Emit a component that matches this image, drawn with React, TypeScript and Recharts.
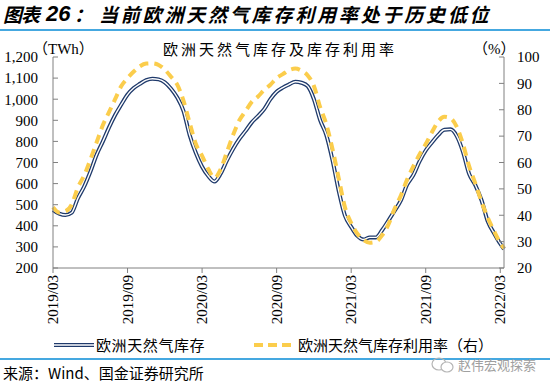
import React from 'react';
import { LineChart, Line, XAxis, YAxis } from 'recharts';

// month offsets from 2019/03
const monthIdx = [
  0, 0.5, 1, 1.5, 2, 2.5, 3, 3.5, 4, 4.5, 5, 5.5, 6, 6.5, 7, 7.5, 8, 8.5, 9, 9.5,
  10, 10.5, 11, 11.5, 12, 12.5, 13, 13.5, 14, 14.5, 15, 15.5, 16, 16.5, 17, 17.5,
  18, 18.5, 19, 19.5, 20, 20.5, 21, 21.5, 22, 22.5, 23, 23.5, 24, 24.5, 25, 25.5,
  26, 26.5, 27, 27.5, 28, 28.5, 29, 29.5, 30, 30.5, 31, 31.5, 32, 32.5, 33, 33.5,
  34, 34.5, 35, 35.5, 36, 36.3,
];

// 欧洲天然气库存 (TWh)
const storageTWh = [
  475, 458, 451, 462, 530, 585, 655, 735, 798, 865, 925, 975, 1022, 1053, 1073, 1090, 1097, 1094, 1080, 1050,
  1008, 945, 830, 745, 680, 636, 610, 648, 710, 765, 812, 850, 890, 920, 953, 1000,
  1035, 1055, 1070, 1083, 1078, 1062, 1000, 901, 830, 710, 565, 448, 395, 352, 335, 345,
  345, 380, 425, 472, 520, 595, 640, 705, 757, 795, 830, 855, 857, 825, 750, 645,
  592, 520, 420, 365, 315, 290,
];

// 欧洲天然气库存利用率 (%)
const utilizationPct = [
  43, 41, 41.5, 44, 50.5, 55, 61, 67.5, 74, 79, 84, 89, 92, 94.5, 96.5, 97.5, 97.6, 97, 95.2, 92.5,
  89.5, 83.5, 75, 67, 62.5, 57.5, 54.2, 57.5, 64, 70.5, 76, 79.5, 83, 85, 87.5, 89.5,
  92, 93.5, 95, 95.6, 94.8, 93, 89, 81, 74.5, 65, 54, 43, 37, 33, 30.6, 29.6,
  30, 32.5, 36.5, 42.5, 47.5, 53.5, 58.5, 63, 67, 71.5, 75.5, 77.3, 76.8, 73.5, 67, 58.5,
  52, 45, 39, 34, 29.5, 27.5,
];

const xTickValues = [0, 6, 12, 18, 24, 30, 36];
const xTickLabels = ['2019/03', '2019/09', '2020/03', '2020/09', '2021/03', '2021/09', '2022/03'];
const leftTicks = [200, 300, 400, 500, 600, 700, 800, 900, 1000, 1100, 1200];
const rightTicks = [20, 30, 40, 50, 60, 70, 80, 90, 100];

const data = monthIdx.map((m, i) => ({ m, twh: storageTWh[i], pct: utilizationPct[i] }));

const SERIF = "'Liberation Serif', 'Times New Roman', 'Noto Sans CJK SC', serif";
const CJK = "'Noto Sans CJK SC', 'Liberation Sans', sans-serif";
const NAVY = '#1F3A6B';
const GOLD = '#FBCD4C';
const SEP = '#45A8E0';

const XTick = (props: any) => {
  const { x, y, payload } = props;
  const idx = xTickValues.indexOf(payload.value);
  const label = idx >= 0 ? xTickLabels[idx] : '';
  return (
    <text
      x={x}
      y={y}
      transform={`rotate(-90 ${x} ${y})`}
      textAnchor="end"
      dominantBaseline="central"
      fontSize={15}
      fontFamily={SERIF}
      fill="#000"
    >
      {label}
    </text>
  );
};

const fmtThousands = (v: number) => v.toLocaleString('en-US');

const titleStyle: React.CSSProperties = {
  position: 'absolute',
  top: 4,
  fontFamily: CJK,
  fontWeight: 'bold',
  fontStyle: 'italic',
  fontSize: 19,
  lineHeight: '19px',
  color: '#000',
  whiteSpace: 'nowrap',
};

export default function App() {
  return (
    <div
      style={{
        position: 'absolute',
        left: 0,
        top: 0,
        width: 550,
        height: 382,
        background: '#fff',
        overflow: 'hidden',
      }}
    >
      <div style={{ ...titleStyle, left: 3, letterSpacing: -1 }}>图表</div>
      <div style={{ ...titleStyle, left: 46, fontFamily: "'Liberation Sans', sans-serif", fontSize: 22 }}>26</div>
      <div style={{ ...titleStyle, left: 74 }}>：</div>
      <div style={{ ...titleStyle, left: 99, letterSpacing: 2.8 }}>当前欧洲天然气库存利用率处于历史低位</div>
      <div style={{ position: 'absolute', left: 0, top: 29, width: 550, height: 2, background: SEP }} />

      <LineChart
        width={550}
        height={382}
        data={data}
        margin={{ top: 57, right: 0, bottom: 44, left: 0 }}
        style={{ position: 'absolute', left: 0, top: 0 }}
      >
        <XAxis
          dataKey="m"
          type="number"
          domain={[0, 36.3]}
          ticks={xTickValues}
          interval={0}
          height={70}
          tickSize={5}
          tickMargin={2}
          tick={<XTick />}
          stroke="#808080"
          tickLine={{ stroke: '#808080' }}
          axisLine={{ stroke: '#808080' }}
        />
        <YAxis
          yAxisId="left"
          orientation="left"
          width={53}
          domain={[200, 1200]}
          ticks={leftTicks}
          interval={0}
          tickSize={-5}
          tickMargin={20}
          tickFormatter={fmtThousands}
          tick={{ fontSize: 15, fontFamily: SERIF, fill: '#000' }}
          stroke="#808080"
        />
        <YAxis
          yAxisId="right"
          orientation="right"
          width={46}
          domain={[20, 100]}
          ticks={rightTicks}
          interval={0}
          tickSize={-5}
          tickMargin={18}
          tick={{ fontSize: 15, fontFamily: SERIF, fill: '#000', textAnchor: 'start' }}
          stroke="#808080"
        />
        <Line
          yAxisId="left"
          dataKey="twh"
          type="monotone"
          stroke={NAVY}
          strokeWidth={4}
          dot={false}
          isAnimationActive={false}
        />
        <Line
          yAxisId="left"
          dataKey="twh"
          type="monotone"
          stroke="#ffffff"
          strokeWidth={1.4}
          dot={false}
          isAnimationActive={false}
        />
        <Line
          yAxisId="right"
          dataKey="pct"
          type="monotone"
          stroke={GOLD}
          strokeWidth={4}
          strokeDasharray="9 6"
          dot={false}
          isAnimationActive={false}
        />
      </LineChart>

      <div
        style={{
          position: 'absolute',
          left: 33,
          top: 37,
          fontFamily: SERIF,
          fontSize: 15,
          whiteSpace: 'nowrap',
          color: '#000',
        }}
      >
        （TWh）
      </div>
      <div
        style={{
          position: 'absolute',
          left: 163,
          top: 38,
          fontFamily: CJK,
          fontSize: 15,
          letterSpacing: 3,
          whiteSpace: 'nowrap',
          color: '#000',
        }}
      >
        欧洲天然气库存及库存利用率
      </div>
      <div
        style={{
          position: 'absolute',
          left: 473,
          top: 37,
          fontFamily: SERIF,
          fontSize: 15,
          whiteSpace: 'nowrap',
          color: '#000',
        }}
      >
        （%）
      </div>

      {/* legend */}
      <svg style={{ position: 'absolute', left: 0, top: 336 }} width={550} height={20}>
        <line x1={54} y1={9} x2={94} y2={9} stroke={NAVY} strokeWidth={4} />
        <line x1={54} y1={9} x2={94} y2={9} stroke="#fff" strokeWidth={1.4} />
        <line x1={254} y1={9} x2={292} y2={9} stroke={GOLD} strokeWidth={4} strokeDasharray="9 5" />
      </svg>
      <div
        style={{
          position: 'absolute',
          left: 96,
          top: 335,
          fontFamily: CJK,
          fontSize: 15,
          letterSpacing: 0.6,
          whiteSpace: 'nowrap',
          lineHeight: '20px',
        }}
      >
        欧洲天然气库存
      </div>
      <div
        style={{
          position: 'absolute',
          left: 298,
          top: 335,
          fontFamily: CJK,
          fontSize: 15,
          letterSpacing: 0,
          whiteSpace: 'nowrap',
          lineHeight: '20px',
        }}
      >
        欧洲天然气库存利用率（右）
      </div>

      <div style={{ position: 'absolute', left: 0, top: 358, width: 550, height: 2, background: SEP }} />
      <svg style={{ position: 'absolute', left: 430, top: 356 }} width={26} height={18}>
        <ellipse cx={9} cy={8} rx={7} ry={6} fill="none" stroke="#b5b5b5" strokeWidth={1.2} />
        <ellipse cx={17} cy={11} rx={6} ry={5} fill="#fff" stroke="#b5b5b5" strokeWidth={1.2} />
      </svg>
      <div
        style={{
          position: 'absolute',
          left: 458,
          top: 356,
          fontFamily: CJK,
          fontSize: 13,
          color: '#a0a0a0',
          whiteSpace: 'nowrap',
          lineHeight: '18px',
        }}
      >
        赵伟宏观探索
      </div>
      <div
        style={{
          position: 'absolute',
          left: 3,
          top: 365,
          fontFamily: CJK,
          fontSize: 15,
          color: '#000',
          whiteSpace: 'nowrap',
          lineHeight: '16px',
        }}
      >
        来源：Wind、国金证券研究所
      </div>
    </div>
  );
}
